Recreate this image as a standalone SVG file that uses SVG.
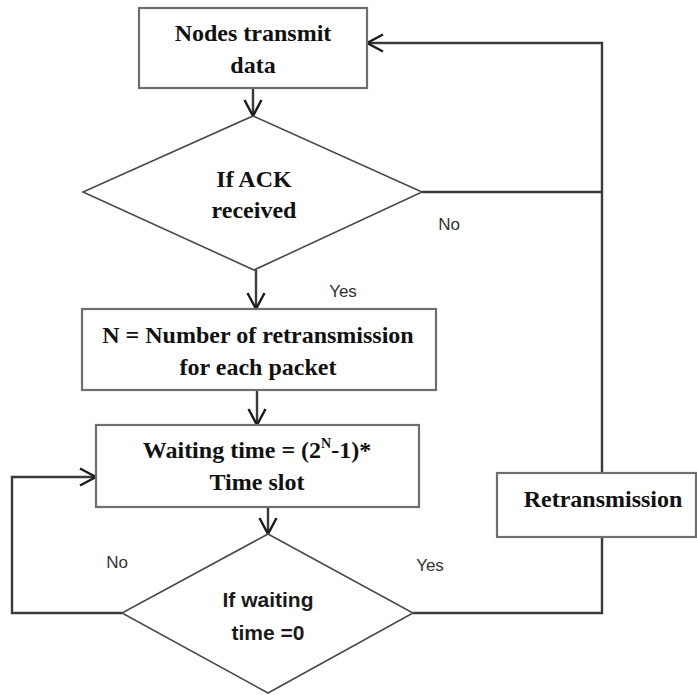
<svg xmlns="http://www.w3.org/2000/svg" width="697" height="695" viewBox="0 0 697 695">
<defs>
<style>
.box{fill:#fff;stroke:#6e6e6e;stroke-width:2.2}
.dia{fill:#fff;stroke:#4a4a4a;stroke-width:1.6}
.t{font-family:"Liberation Serif","Times New Roman",serif;font-weight:bold;font-size:24px;fill:#111;text-anchor:middle}
.s{font-family:"Liberation Sans",Arial,sans-serif;font-weight:bold;font-size:21px;fill:#1a1a1a;text-anchor:middle}
.lbl{font-family:"Liberation Sans",Arial,sans-serif;font-size:17px;fill:#333;text-anchor:middle}
.c{fill:none;stroke:#3a3a3a;stroke-width:2.4}
</style>
<marker id="ah" viewBox="0 0 20 20" refX="18" refY="10" markerWidth="20" markerHeight="20" orient="auto" markerUnits="userSpaceOnUse">
<path d="M2,1.5 L18,10 L2,18.5" fill="none" stroke="#1a1a1a" stroke-width="2.4"/>
</marker>
</defs>
<rect width="697" height="695" fill="#fff"/>
<g id="connectors">
<path class="c" d="M253,88 V116" marker-end="url(#ah)"/>
<path class="c" d="M422,192 H602"/>
<path class="c" d="M602,473 V43 H367" marker-end="url(#ah)"/>
<path class="c" d="M256,270 V309" marker-end="url(#ah)"/>
<path class="c" d="M257,390 V425" marker-end="url(#ah)"/>
<path class="c" d="M268,507 V534" marker-end="url(#ah)"/>
<path class="c" d="M122,613 H12 V477 H96" marker-end="url(#ah)"/>
<path class="c" d="M413,613 H602 V537"/>
</g>
<g id="n1">
<rect class="box" x="139" y="8" width="228" height="80"/>
<text class="t" x="253" y="41">Nodes transmit</text>
<text class="t" x="253" y="73">data</text>
</g>
<g id="d1">
<polygon class="dia" points="253,116 422,192 254,270 83,192"/>
<text class="t" x="254" y="187">If ACK</text>
<text class="t" x="254" y="218">received</text>
</g>
<g id="n2">
<rect class="box" x="82" y="309" width="354" height="81"/>
<text class="t" x="258" y="343">N = Number of retransmission</text>
<text class="t" x="258" y="375">for each packet</text>
</g>
<g id="n3">
<rect class="box" x="96" y="425" width="323" height="82"/>
<text class="t" x="257" y="458">Waiting time = (2<tspan font-size="14" dy="-10">N</tspan><tspan dy="10">-1)*</tspan></text>
<text class="t" x="257" y="490">Time slot</text>
</g>
<g id="d2">
<polygon class="dia" points="268,534 413,613 268,693 122,613"/>
<text class="s" x="268" y="607">If waiting</text>
<text class="s" x="268" y="640">time =0</text>
</g>
<g id="n4">
<rect class="box" x="497" y="473" width="199" height="64"/>
<text class="t" x="603" y="507">Retransmission</text>
</g>
<g id="labels">
<text class="lbl" x="449" y="230">No</text>
<text class="lbl" x="343" y="297">Yes</text>
<text class="lbl" x="117" y="568">No</text>
<text class="lbl" x="430" y="571">Yes</text>
</g>
</svg>
